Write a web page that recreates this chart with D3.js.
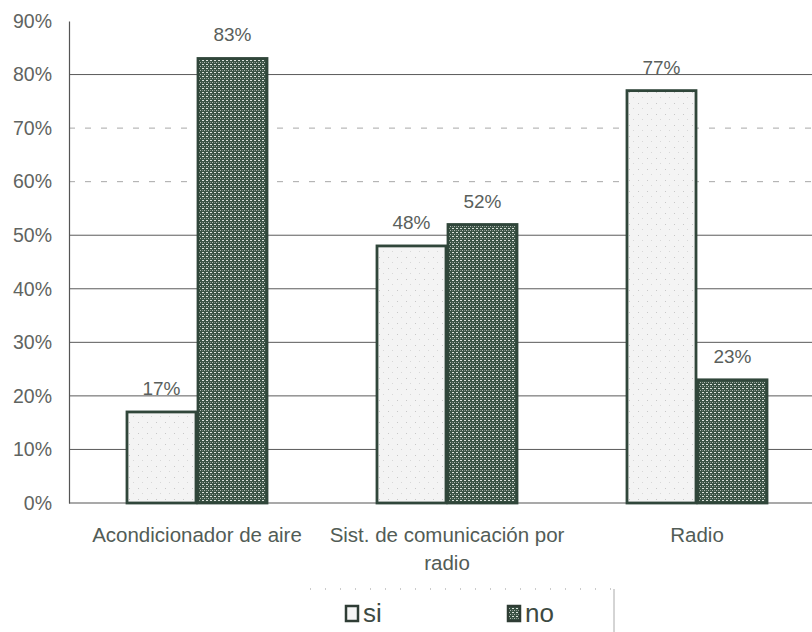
<!DOCTYPE html>
<html>
<head>
<meta charset="utf-8">
<script src="https://cdn.jsdelivr.net/npm/d3@7"></script>
<style>
  html, body { margin: 0; padding: 0; background: #fff; }
  svg { display: block; font-family: "Liberation Sans", Arial, sans-serif; }
</style>
</head>
<body>
<svg id="chart" width="812" height="632"></svg>
<script>
// Equipment availability: share of "si" / "no" answers per item
const categories = [["Acondicionador de aire"], ["Sist. de comunicación por", "radio"], ["Radio"]];
const seriesNames = ["si", "no"];
const siValues = [17, 48, 77];
const noValues = [83, 52, 23];
const yTicks = [0, 10, 20, 30, 40, 50, 60, 70, 80, 90];

const svg = d3.select("#chart");
const W = 812, H = 632;
const margin = { left: 69, top: 21, bottom: 129 };

const x0 = d3.scaleBand()
  .domain(d3.range(categories.length))
  .range([72, 822])
  .paddingInner(0.432)
  .paddingOuter(0.216);
const x1 = d3.scaleBand().domain(seriesNames).range([0, x0.bandwidth()]);
const y = d3.scaleLinear().domain([0, 90]).range([H - margin.bottom, margin.top]);

// Fill patterns
const defs = svg.append("defs");
const pNo = defs.append("pattern").attr("id", "pNo")
  .attr("patternUnits", "userSpaceOnUse").attr("width", 4).attr("height", 4);
pNo.append("rect").attr("width", 4).attr("height", 4).attr("fill", "#3a5244");
pNo.append("rect").attr("x", 0).attr("y", 0).attr("width", 2).attr("height", 1).attr("fill", "#dde3dd");
pNo.append("rect").attr("x", 2).attr("y", 2).attr("width", 1).attr("height", 1).attr("fill", "#b0bab2");
pNo.append("rect").attr("x", 0).attr("y", 2).attr("width", 1).attr("height", 1).attr("fill", "#7f8c83");

const pSi = defs.append("pattern").attr("id", "pSi")
  .attr("patternUnits", "userSpaceOnUse").attr("width", 9).attr("height", 11);
pSi.append("rect").attr("width", 9).attr("height", 11).attr("fill", "#f4f4f4");
pSi.append("rect").attr("x", 3).attr("y", 4).attr("width", 1).attr("height", 1).attr("fill", "#c8c8c8");
pSi.append("rect").attr("x", 7).attr("y", 9).attr("width", 1).attr("height", 1).attr("fill", "#d8d8d8");

// Gridlines
const grid = svg.append("g");
yTicks.filter(t => t > 0 && t < 90).forEach(t => {
  const faint = (t === 60 || t === 70);
  grid.append("line")
    .attr("x1", margin.left).attr("x2", W)
    .attr("y1", y(t)).attr("y2", y(t))
    .attr("stroke", faint ? "#a8a8a8" : "#5a5a5a")
    .attr("stroke-width", 1)
    .attr("stroke-dasharray", faint ? "6,10" : null);
});

// Y axis
const yAxis = d3.axisLeft(y).tickValues(yTicks).tickFormat(d => d + "%").tickSize(0).tickPadding(17);
const ga = svg.append("g").attr("transform", `translate(${margin.left},0)`).call(yAxis);
ga.select(".domain").attr("stroke", "#555").attr("stroke-width", 1.2);
ga.selectAll("text").attr("font-size", 19.5).attr("fill", "#5f6461")
  .attr("font-family", "Liberation Sans, Arial, sans-serif");

// Baseline
svg.append("line").attr("x1", margin.left).attr("x2", W)
  .attr("y1", y(0)).attr("y2", y(0)).attr("stroke", "#555").attr("stroke-width", 1.2);

// Bars
const data = categories.map((c, i) => ({ i, vals: [{ s: "si", v: siValues[i] }, { s: "no", v: noValues[i] }] }));
const groups = svg.append("g").selectAll("g").data(data).join("g")
  .attr("transform", d => `translate(${x0(d.i)},0)`);

groups.selectAll("rect").data(d => d.vals).join("rect")
  .attr("x", d => x1(d.s) + 1)
  .attr("y", d => y(d.v))
  .attr("width", x1.bandwidth() - 2)
  .attr("height", d => y(0) - y(d.v))
  .attr("fill", d => d.s === "si" ? "url(#pSi)" : "url(#pNo)")
  .attr("stroke", "#30463a")
  .attr("stroke-width", 2.8);

groups.selectAll("text").data(d => d.vals).join("text")
  .attr("x", d => x1(d.s) + x1.bandwidth() / 2)
  .attr("y", d => y(d.v) - 17)
  .attr("text-anchor", "middle")
  .attr("font-size", 19)
  .attr("fill", "#5a5f5c")
  .text(d => d.v + "%");

// Category labels
const cat = svg.append("g");
categories.forEach((lines, i) => {
  const cx = x0(i) + x0.bandwidth() / 2;
  const t = cat.append("text")
    .attr("x", cx)
    .attr("y", 542)
    .attr("text-anchor", "middle")
    .attr("font-size", 20.5)
    .attr("fill", "#525c56");
  lines.forEach((l, k) => t.append("tspan")
    .attr("x", cx)
    .attr("dy", k === 0 ? 0 : 28)
    .text(l));
});

// Legend
const lg = svg.append("g");
lg.append("line").attr("x1", 310).attr("x2", 612).attr("y1", 589).attr("y2", 589)
  .attr("stroke", "#999").attr("stroke-dasharray", "1,14");
lg.append("line").attr("x1", 614).attr("x2", 614).attr("y1", 589).attr("y2", 632)
  .attr("stroke", "#aaa");
const legendItems = [{ s: "si", x: 346 }, { s: "no", x: 508 }];
legendItems.forEach(it => {
  lg.append("rect").attr("x", it.x).attr("y", 606).attr("width", 12).attr("height", 15)
    .attr("fill", it.s === "si" ? "#f5f5f5" : "url(#pNo)")
    .attr("stroke", "#2f3d35").attr("stroke-width", 2.5);
  lg.append("text").attr("x", it.x + 17).attr("y", 622)
    .attr("font-size", 26).attr("fill", "#3d4a42").text(it.s);
});
</script>
</body>
</html>
